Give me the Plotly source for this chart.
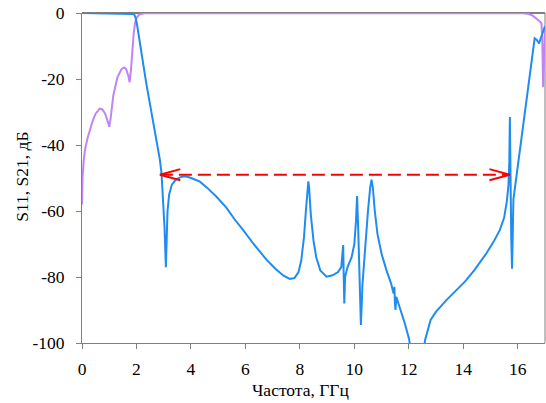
import plotly.graph_objects as go

# ---- data ----
s11_freq = [0.0, 1.5, 1.75, 1.85, 1.92, 1.97, 2.02, 2.07, 2.15, 2.25, 2.36, 2.47, 2.58, 2.68, 2.78, 2.86, 2.92, 2.98,
            3.03, 3.08,
            3.11, 3.14, 3.2, 3.3, 3.45, 3.6, 3.75, 3.9, 4.1, 4.33, 4.6, 4.94, 5.3, 5.6, 5.92, 6.3, 6.78, 7.1,
            7.4, 7.63, 7.8, 7.95, 8.05, 8.15, 8.22, 8.28, 8.31, 8.34, 8.4, 8.5, 8.6, 8.75, 8.98, 9.2, 9.4,
            9.52, 9.57, 9.59, 9.61, 9.63, 9.66, 9.75, 9.9, 10.0, 10.06, 10.1, 10.14, 10.19, 10.24, 10.3,
            10.4, 10.5, 10.58, 10.63, 10.68, 10.75, 10.85, 11.0, 11.18, 11.35, 11.44, 11.47, 11.49, 11.51,
            11.54, 11.7, 11.85, 12.0, 12.1, 12.3, 12.5, 12.6, 12.8, 13.0, 13.38, 13.7, 14.06, 14.4, 14.85,
            15.1, 15.34, 15.5, 15.6, 15.66, 15.69, 15.71, 15.73, 15.76, 15.79, 15.81, 15.84, 16.0, 16.2,
            16.4, 16.62, 16.7, 16.78, 16.85, 16.93, 17.0]
s11_db = [0.0, -0.1, -0.2, -0.3, -0.5, -1.5, -3.5, -6.2, -10.5, -16.3, -21.3, -26.4, -31.5, -36.5, -40.8, -44.5,
          -48.6, -56.7, -65, -77,
          -68, -60, -55, -52, -50.5, -49.8, -49.5, -49.7, -50.3, -51.1, -53, -55.7, -59, -62.5, -65.8, -70,
          -74.8, -77.5, -79.6, -80.6, -80.3, -78.5, -75, -68, -60, -53, -51, -53, -61, -69, -74, -78,
          -79.9, -79.5, -78.5, -77, -73, -70.3, -80, -88, -80, -77, -74, -70, -63, -55.5, -65, -82, -94.5,
          -82, -70, -60, -53, -50.5, -53, -60, -67, -73, -78, -82, -85, -83, -88, -90, -86, -90, -94,
          -98.5, -103, -112, -105, -99, -93, -90.5, -87, -84.5, -81.4, -78, -72.8, -69.5, -65.8, -62,
          -57, -52, -45, -31.5, -50, -68, -77.5, -65, -56.5, -46.5, -34, -21.5, -7.7, -8.2, -9.2, -7.5,
          -5.2, -4]

s21_freq = [0.0, 0.02, 0.06, 0.11, 0.2, 0.29, 0.4, 0.5, 0.65, 0.75, 0.85, 0.95, 1.0, 1.05, 1.15, 1.3, 1.45,
            1.55, 1.62, 1.7, 1.75, 1.8, 1.85, 1.9, 1.95, 2.0, 2.1, 2.3, 16.2, 16.4, 16.55, 16.68, 16.8,
            16.87, 16.9, 16.93, 16.96, 17.0]
s21_db = [-58, -50, -45, -41.5, -38, -35.5, -32.5, -30.5, -29, -29.2, -30.5, -33, -34.5, -32, -25, -19.5, -17,
          -16.5, -17, -19, -21, -17, -11, -6, -3, -1.5, -0.5, -0.1, -0.1, -0.3, -0.8, -1.6, -2.5,
          -3.1, -8, -22.5, -14, -5]

x_tick_vals = [0, 2, 4, 6, 8, 10, 12, 14, 16]
x_tick_labels = ["0", "2", "4", "6", "8", "10", "12", "14", "16"]
y_tick_vals = [0, -20, -40, -60, -80, -100]
y_tick_labels = ["0", "-20", "-40", "-60", "-80", "-100"]
x_title = "Частота, ГГц"
y_title = "S11, S21, дБ"

# passband arrow annotation
arrow_x_start = 2.86
arrow_x_end = 15.71
arrow_level = -49

BLUE = "#1E8CF0"
PURPLE = "#C084F5"
RED = "#FF0000"
FONT = "Liberation Serif, Times New Roman, serif"
FSIZE = 17.5

fig = go.Figure()
fig.add_trace(go.Scatter(x=s21_freq, y=s21_db, mode="lines",
                         line=dict(color=PURPLE, width=2), showlegend=False))
fig.add_trace(go.Scatter(x=s11_freq, y=s11_db, mode="lines",
                         line=dict(color=BLUE, width=2), showlegend=False))

# frame lines (top black, right grey)
fig.add_shape(type="line", xref="paper", yref="paper", x0=0, x1=1, y0=1, y1=1,
              line=dict(color="black", width=1), layer="below")
fig.add_shape(type="line", xref="paper", yref="paper", x0=1, x1=1, y0=0, y1=1,
              line=dict(color="#808080", width=1), layer="below")

# dashed double arrow
fig.add_shape(type="line", x0=arrow_x_start, x1=arrow_x_end, y0=arrow_level, y1=arrow_level,
              line=dict(color=RED, width=2, dash="13px,6px"))
head_dx = 0.75
head_dy = 1.7
for x_tip, sgn in [(arrow_x_start, 1), (arrow_x_end, -1)]:
    for dy in (head_dy, -head_dy):
        fig.add_shape(type="line", x0=x_tip, y0=arrow_level, x1=x_tip + sgn * head_dx,
                      y1=arrow_level + dy, line=dict(color=RED, width=2))

# axis titles as annotations (exact placement)
fig.add_annotation(text=x_title, xref="paper", yref="paper", x=0.471, y=-0.142,
                   xanchor="center", yanchor="middle", showarrow=False,
                   font=dict(family=FONT, size=FSIZE, color="black"))
fig.add_annotation(text=y_title, xref="paper", yref="paper", x=-0.130, y=0.503, textangle=-90,
                   xanchor="center", yanchor="middle", showarrow=False,
                   font=dict(family=FONT, size=FSIZE, color="black"))

axis_common = dict(showgrid=False, zeroline=False, showline=True, linecolor="#808080", linewidth=1,
                   ticks="outside", tickcolor="#808080", ticklen=5, tickwidth=1, automargin=False,
                   tickfont=dict(family=FONT, size=FSIZE, color="black"))

fig.update_layout(
    width=546, height=403,
    margin=dict(l=82, r=1, t=13, b=60),
    paper_bgcolor="white", plot_bgcolor="white",
    font=dict(family=FONT, size=FSIZE, color="black"),
    xaxis=dict(range=[0, 17], tickvals=x_tick_vals, ticktext=x_tick_labels, ticklabelstandoff=5,
               **axis_common),
    yaxis=dict(range=[-100, 0], tickvals=y_tick_vals, ticktext=y_tick_labels, ticklabelstandoff=8,
               **axis_common),
)

fig.write_html("out.html", post_script="document.body.style.margin='0';",
               config={"displayModeBar": False})
